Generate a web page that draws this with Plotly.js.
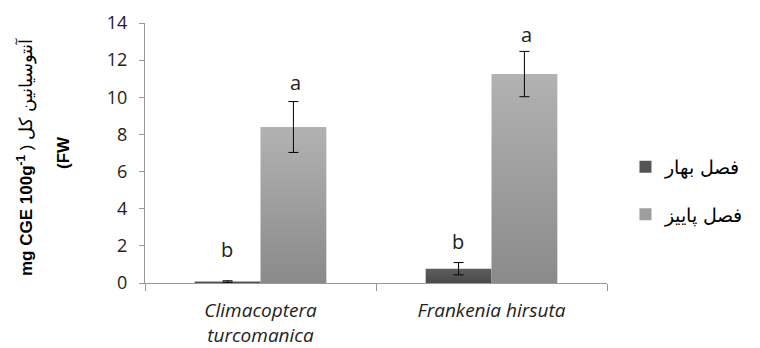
<!DOCTYPE html>
<html>
<head>
<meta charset="utf-8">
<script src="https://cdn.plot.ly/plotly-3.0.1.min.js"></script>
<style>html,body{margin:0;padding:0;background:#fff;}#chart{width:760px;height:348px;}</style>
</head>
<body>
<svg width="0" height="0" style="position:absolute">
  <defs>
    <linearGradient id="gradDark" x1="0" y1="0" x2="0" y2="1">
      <stop offset="0" stop-color="#5e5e5e"/>
      <stop offset="1" stop-color="#4a4a4a"/>
    </linearGradient>
    <linearGradient id="gradLight" x1="0" y1="0" x2="0" y2="1">
      <stop offset="0" stop-color="#b2b2b2"/>
      <stop offset="1" stop-color="#8a8a8a"/>
    </linearGradient>
  </defs>
</svg>
<div id="chart"></div>
<script>
// Data
const categories = ['<i>Climacoptera</i><br><i>turcomanica</i>', '<i>Frankenia hirsuta</i>'];
const seriesNames = ['فصل بهار', 'فصل پاییز'];
const springValues = [0.08, 0.77];
const springErrors = [0.04, 0.33];
const autumnValues = [8.4, 11.25];
const autumnErrors = [1.37, 1.22];
const springLetters = ['b', 'b'];
const autumnLetters = ['a', 'a'];
const springLetterY = [1.8, 2.25];
const autumnLetterY = [10.8, 13.4];
const yTicks = [0, 2, 4, 6, 8, 10, 12, 14];

const colors = ['#555555', '#9e9e9e'];
const gradients = ['url(#gradDark)', 'url(#gradLight)'];
const FONT = 'Open Sans, Liberation Sans, Arial, sans-serif';

const traces = [
  {
    type: 'bar', name: seriesNames[0], x: categories, y: springValues,
    marker: {color: colors[0]},
    error_y: {type: 'data', array: springErrors, visible: true, color: '#000', thickness: 1, width: 5},
    legendgroup: 'g1'
  },
  {
    type: 'bar', name: seriesNames[1], x: categories, y: autumnValues,
    marker: {color: colors[1]},
    error_y: {type: 'data', array: autumnErrors, visible: true, color: '#000', thickness: 1, width: 5},
    legendgroup: 'g2'
  }
];

const annotations = [];
categories.forEach((c, i) => {
  annotations.push({x: c, y: springLetterY[i], xref: 'x', yref: 'y', text: springLetters[i],
    showarrow: false, xshift: -34, font: {family: FONT, size: 20, color: '#222'}});
  annotations.push({x: c, y: autumnLetterY[i], xref: 'x', yref: 'y', text: autumnLetters[i],
    showarrow: false, xshift: 35, font: {family: FONT, size: 20, color: '#222'}});
});
annotations.push({x: 0, y: 0.5, xref: 'paper', yref: 'paper', xanchor: 'center', yanchor: 'middle',
  xshift: -120, yshift: -4, textangle: -90, showarrow: false,
  text: '<b>mg CGE 100g<sup>-1</sup></b> ) <span style="font-size:18px">آنتوسیانین کل</span>',
  font: {family: 'Liberation Sans, Arial, sans-serif', size: 17, color: '#000'}});
annotations.push({x: 0, y: 0.5, xref: 'paper', yref: 'paper', xanchor: 'center', yanchor: 'middle',
  xshift: -82, textangle: -90, showarrow: false,
  text: '<b>(FW</b>',
  font: {family: 'Liberation Sans, Arial, sans-serif', size: 17, color: '#000'}});

const layout = {
  width: 760, height: 348,
  margin: {l: 145, r: 133, t: 23, b: 65},
  paper_bgcolor: '#fff', plot_bgcolor: '#fff',
  barmode: 'group', bargap: 0.43, bargroupgap: 0,
  showlegend: true,
  legend: {x: 1.04, y: 0.52, xanchor: 'left', yanchor: 'top',
    font: {family: 'Liberation Sans, Arial, sans-serif', size: 19, color: '#000'},
    tracegroupgap: 20, traceorder: 'grouped', itemwidth: 30},
  xaxis: {
    showline: true, linecolor: '#999', linewidth: 1,
    ticks: 'outside', tickson: 'boundaries', ticklen: 7, tickcolor: '#999',
    ticklabelstandoff: 10,
    tickfont: {family: FONT, size: 19, color: '#222'},
    showgrid: false, zeroline: false, fixedrange: true
  },
  yaxis: {
    range: [0, 14], tickvals: yTicks, ticktext: yTicks.map(String),
    showline: true, linecolor: '#999', linewidth: 1,
    ticks: 'outside', ticklen: 5, tickcolor: '#999',
    ticklabelstandoff: 8,
    tickfont: {family: FONT, size: 18, color: '#222'},
    showgrid: false, zeroline: false, fixedrange: true
  },
  annotations: annotations
};

Plotly.newPlot('chart', traces, layout, {staticPlot: true, displayModeBar: false}).then(gd => {
  // Apply vertical gradient shading to bars (styling only)
  gd.querySelectorAll('.barlayer .trace').forEach((tr, i) => {
    tr.querySelectorAll('.point path').forEach(p => { p.style.fill = gradients[i]; });
  });
});
</script>
</body>
</html>
